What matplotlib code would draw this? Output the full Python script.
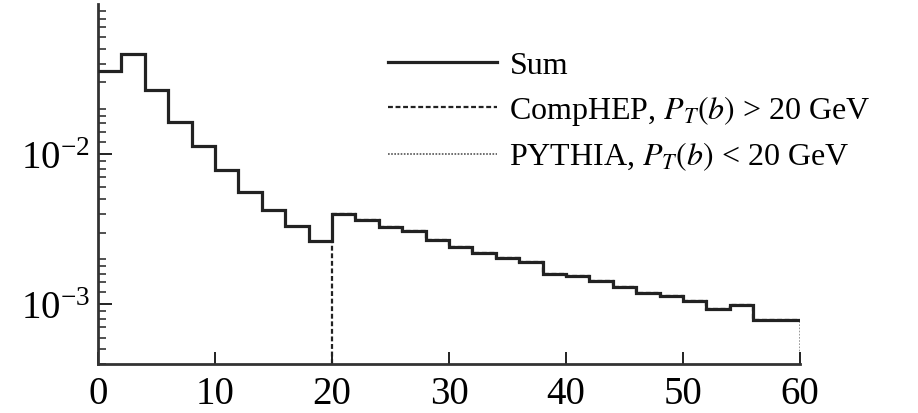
import numpy as np
import matplotlib
matplotlib.use("Agg")
import matplotlib.pyplot as plt
from matplotlib.ticker import LogLocator, FixedLocator, NullFormatter

plt.rcParams['font.family'] = ['Liberation Serif', 'DejaVu Serif']
plt.rcParams['mathtext.fontset'] = 'stix'

# bin edges (2 units wide) and contents
edges = np.arange(0, 62, 2)
sum_vals = [0.0359, 0.0464, 0.0268, 0.0163, 0.0114, 0.00786, 0.00561, 0.00423,
            0.00333, 0.00265, 0.00398, 0.00365, 0.00328, 0.00308, 0.00267,
            0.00239, 0.00219, 0.00202, 0.00190, 0.00158, 0.00155, 0.00143,
            0.00131, 0.00118, 0.00114, 0.00105, 0.000935, 0.000985, 0.000782,
            0.000782]
cut = 20
ymin, ymax = 4e-4, 0.1

sum_vals = np.array(sum_vals)
lo = edges[:-1] < cut
pythia_vals = sum_vals[lo]
comphep_vals = sum_vals[~lo]

fig = plt.figure(figsize=(9.18, 4.14), dpi=100)
ax = fig.add_axes([0.1068, 0.1184, 0.7647, 0.8696])

dash = (0, (2.2, 1.2))
dot = (0, (1, 0.9))
ax.stairs(sum_vals, edges, baseline=None, color='#222222', lw=2.3, label='Sum', zorder=3)
ax.stairs(comphep_vals, edges[edges >= cut], baseline=None, color='#222222', lw=1.6,
          ls=dash, label=r'CompHEP, $P_T(b)$ > 20 GeV', zorder=2)
ax.vlines(cut, ymin, sum_vals[lo][-1], color='#222222', lw=1.6, ls=dash, zorder=2)
ax.stairs(pythia_vals, edges[edges <= cut], baseline=None, color='#555555', lw=1.2,
          ls=dot, label=r'PYTHIA, $P_T(b)$ < 20 GeV', zorder=1)
ax.vlines(edges[-1], ymin, sum_vals[-1], color='#888888', lw=1.2, ls=dot, zorder=1)

ax.set_yscale('log')
ax.set_xlim(0, 60)
ax.set_ylim(ymin, ymax)

for s in ['top', 'right']:
    ax.spines[s].set_visible(False)
for s in ['left', 'bottom']:
    ax.spines[s].set_linewidth(2.0)
    ax.spines[s].set_color('#333333')

ax.set_xticks([0, 10, 20, 30, 40, 50, 60])
ax.yaxis.set_major_locator(FixedLocator([1e-3, 1e-2]))
ax.yaxis.set_minor_locator(LogLocator(base=10, subs=[1.2, 1.4, 1.6, 1.8, 2, 3, 4, 5, 6, 7, 8, 9], numticks=20))
ax.yaxis.set_minor_formatter(NullFormatter())
ax.tick_params(axis='x', direction='in', length=9, width=1.4, labelsize=28, pad=8, colors='#222222')
ax.tick_params(axis='y', which='major', direction='in', length=10, width=1.4, labelsize=28, pad=6, colors='#222222')
ax.tick_params(axis='y', which='minor', direction='in', length=6, width=1.2, colors='#333333')
for lab in ax.get_xticklabels() + ax.get_yticklabels():
    lab.set_color('black')

ax.legend(loc='upper left', bbox_to_anchor=(388 / 918, 1 - 52 / 414), bbox_transform=fig.transFigure,
          frameon=False, fontsize=23, handlelength=3.4, handletextpad=0.4,
          labelspacing=0.4, borderpad=0, borderaxespad=0)

fig.savefig('out.png', dpi=100)
